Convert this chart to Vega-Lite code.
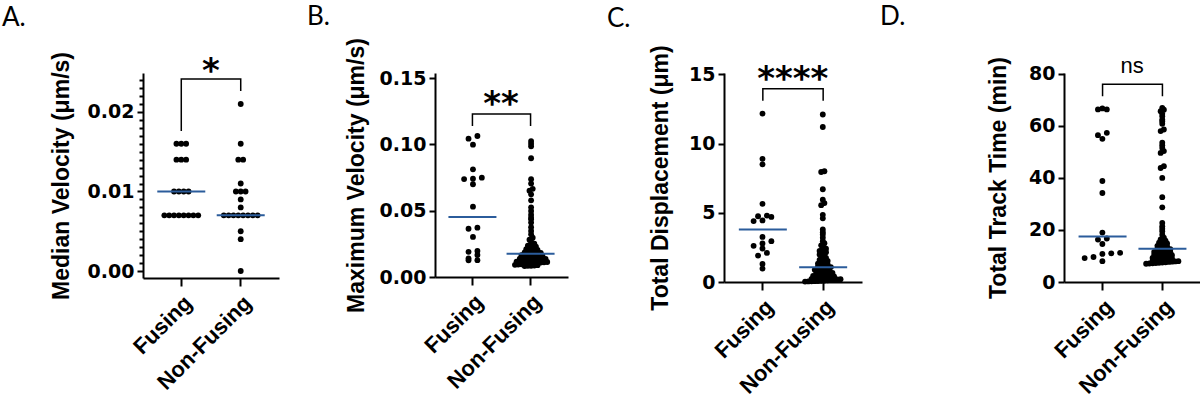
{
  "$schema": "https://vega.github.io/schema/vega-lite/v6.json",
  "padding": {"left": 2, "top": 3, "right": 0, "bottom": 0},
  "background": "white",
  "config": {
    "view": {"stroke": null},
    "font": "Liberation Sans",
    "axis": {"domainColor": "black", "domainWidth": 2, "tickColor": "black", "tickWidth": 2, "labelColor": "black", "titleColor": "black", "grid": false},
    "axisY": {"labelFont": "DejaVu Sans", "labelFontSize": 19, "labelFontWeight": "bold", "labelPadding": 3, "tickSize": 6, "titleFont": "Liberation Sans", "titleFontSize": 23, "titleFontWeight": "bold"},
    "axisX": {"labelFont": "Liberation Sans", "labelFontSize": 22, "labelFontWeight": "bold", "labelAngle": -45, "tickSize": 8, "labelPadding": 6},
    "title": {"font": "Lato", "fontSize": 26, "fontWeight": "normal", "color": "black", "anchor": "start", "frame": "group", "offset": 0}
  },
  "datasets": {
    "dots": [
      {"p":"A","g":"Fusing","v":0.016},{"p":"A","g":"Fusing","v":0.016},{"p":"A","g":"Fusing","v":0.016},
      {"p":"A","g":"Fusing","v":0.014},{"p":"A","g":"Fusing","v":0.014},{"p":"A","g":"Fusing","v":0.014},
      {"p":"A","g":"Fusing","v":0.010},{"p":"A","g":"Fusing","v":0.010},{"p":"A","g":"Fusing","v":0.010},{"p":"A","g":"Fusing","v":0.010},
      {"p":"A","g":"Fusing","v":0.007},{"p":"A","g":"Fusing","v":0.007},{"p":"A","g":"Fusing","v":0.007},{"p":"A","g":"Fusing","v":0.007},
      {"p":"A","g":"Fusing","v":0.007},{"p":"A","g":"Fusing","v":0.007},{"p":"A","g":"Fusing","v":0.007},{"p":"A","g":"Fusing","v":0.007},
      {"p":"A","g":"Non-Fusing","v":0.021},{"p":"A","g":"Non-Fusing","v":0.016},{"p":"A","g":"Non-Fusing","v":0.014},{"p":"A","g":"Non-Fusing","v":0.014},
      {"p":"A","g":"Non-Fusing","v":0.011},{"p":"A","g":"Non-Fusing","v":0.010},{"p":"A","g":"Non-Fusing","v":0.010},{"p":"A","g":"Non-Fusing","v":0.010},
      {"p":"A","g":"Non-Fusing","v":0.009},{"p":"A","g":"Non-Fusing","v":0.008},
      {"p":"A","g":"Non-Fusing","v":0.007},{"p":"A","g":"Non-Fusing","v":0.007},{"p":"A","g":"Non-Fusing","v":0.007},{"p":"A","g":"Non-Fusing","v":0.007},
      {"p":"A","g":"Non-Fusing","v":0.007},{"p":"A","g":"Non-Fusing","v":0.007},{"p":"A","g":"Non-Fusing","v":0.007},{"p":"A","g":"Non-Fusing","v":0.007},
      {"p":"A","g":"Non-Fusing","v":0.005},{"p":"A","g":"Non-Fusing","v":0.004},{"p":"A","g":"Non-Fusing","v":0.0},

      {"p":"B","g":"Fusing","v":0.1063},{"p":"B","g":"Fusing","v":0.1043},{"p":"B","g":"Fusing","v":0.0998},{"p":"B","g":"Fusing","v":0.0812},
      {"p":"B","g":"Fusing","v":0.0749},{"p":"B","g":"Fusing","v":0.0741},{"p":"B","g":"Fusing","v":0.0738},{"p":"B","g":"Fusing","v":0.0699},
      {"p":"B","g":"Fusing","v":0.053},{"p":"B","g":"Fusing","v":0.0372},{"p":"B","g":"Fusing","v":0.0364},{"p":"B","g":"Fusing","v":0.0302},
      {"p":"B","g":"Fusing","v":0.0196},{"p":"B","g":"Fusing","v":0.019},{"p":"B","g":"Fusing","v":0.0166},{"p":"B","g":"Fusing","v":0.0141},
      {"p":"B","g":"Fusing","v":0.0126},{"p":"B","g":"Fusing","v":0.0127},
      {"p":"B","g":"Non-Fusing","v":0.1025},{"p":"B","g":"Non-Fusing","v":0.1005},{"p":"B","g":"Non-Fusing","v":0.0985},{"p":"B","g":"Non-Fusing","v":0.0895},
      {"p":"B","g":"Non-Fusing","v":0.0737},{"p":"B","g":"Non-Fusing","v":0.0704},{"p":"B","g":"Non-Fusing","v":0.0665},{"p":"B","g":"Non-Fusing","v":0.065},
      {"p":"B","g":"Non-Fusing","v":0.0623},{"p":"B","g":"Non-Fusing","v":0.0578},{"p":"B","g":"Non-Fusing","v":0.0525},{"p":"B","g":"Non-Fusing","v":0.0498},
      {"p":"B","g":"Non-Fusing","v":0.047},{"p":"B","g":"Non-Fusing","v":0.0447},{"p":"B","g":"Non-Fusing","v":0.0435},{"p":"B","g":"Non-Fusing","v":0.041},
      {"p":"B","g":"Non-Fusing","v":0.0375},{"p":"B","g":"Non-Fusing","v":0.0347},{"p":"B","g":"Non-Fusing","v":0.0322},{"p":"B","g":"Non-Fusing","v":0.0296},
      {"p":"B","g":"Non-Fusing","v":0.0281},{"p":"B","g":"Non-Fusing","v":0.0266},{"p":"B","g":"Non-Fusing","v":0.0251},
      {"p":"B","g":"Non-Fusing","v":0.0243},{"p":"B","g":"Non-Fusing","v":0.0236},{"p":"B","g":"Non-Fusing","v":0.0229},{"p":"B","g":"Non-Fusing","v":0.0221},{"p":"B","g":"Non-Fusing","v":0.0216},
      {"p":"B","g":"Non-Fusing","v":0.0209},{"p":"B","g":"Non-Fusing","v":0.0204},{"p":"B","g":"Non-Fusing","v":0.0198},{"p":"B","g":"Non-Fusing","v":0.0194},{"p":"B","g":"Non-Fusing","v":0.0189},
      {"p":"B","g":"Non-Fusing","v":0.0186},{"p":"B","g":"Non-Fusing","v":0.0182},{"p":"B","g":"Non-Fusing","v":0.0179},{"p":"B","g":"Non-Fusing","v":0.0177},{"p":"B","g":"Non-Fusing","v":0.0176},
      {"p":"B","g":"Non-Fusing","v":0.0173},{"p":"B","g":"Non-Fusing","v":0.0168},{"p":"B","g":"Non-Fusing","v":0.0165},{"p":"B","g":"Non-Fusing","v":0.016},{"p":"B","g":"Non-Fusing","v":0.0157},
      {"p":"B","g":"Non-Fusing","v":0.0152},{"p":"B","g":"Non-Fusing","v":0.0149},{"p":"B","g":"Non-Fusing","v":0.0146},{"p":"B","g":"Non-Fusing","v":0.0143},{"p":"B","g":"Non-Fusing","v":0.0141},
      {"p":"B","g":"Non-Fusing","v":0.0138},{"p":"B","g":"Non-Fusing","v":0.0136},{"p":"B","g":"Non-Fusing","v":0.0134},{"p":"B","g":"Non-Fusing","v":0.0131},{"p":"B","g":"Non-Fusing","v":0.0129},
      {"p":"B","g":"Non-Fusing","v":0.0127},{"p":"B","g":"Non-Fusing","v":0.0125},{"p":"B","g":"Non-Fusing","v":0.0122},{"p":"B","g":"Non-Fusing","v":0.012},{"p":"B","g":"Non-Fusing","v":0.0118},
      {"p":"B","g":"Non-Fusing","v":0.0116},{"p":"B","g":"Non-Fusing","v":0.0113},{"p":"B","g":"Non-Fusing","v":0.0111},{"p":"B","g":"Non-Fusing","v":0.0109},{"p":"B","g":"Non-Fusing","v":0.0107},
      {"p":"B","g":"Non-Fusing","v":0.0105},{"p":"B","g":"Non-Fusing","v":0.0102},{"p":"B","g":"Non-Fusing","v":0.01},{"p":"B","g":"Non-Fusing","v":0.0098},{"p":"B","g":"Non-Fusing","v":0.0096},
      {"p":"B","g":"Non-Fusing","v":0.0094},{"p":"B","g":"Non-Fusing","v":0.0092},{"p":"B","g":"Non-Fusing","v":0.0089},{"p":"B","g":"Non-Fusing","v":0.0087},{"p":"B","g":"Non-Fusing","v":0.0085},
      {"p":"B","g":"Non-Fusing","v":0.0083},{"p":"B","g":"Non-Fusing","v":0.0084},

      {"p":"C","g":"Fusing","v":12.17},{"p":"C","g":"Fusing","v":8.9},{"p":"C","g":"Fusing","v":8.5},{"p":"C","g":"Fusing","v":5.65},
      {"p":"C","g":"Fusing","v":4.75},{"p":"C","g":"Fusing","v":4.4},{"p":"C","g":"Fusing","v":4.45},{"p":"C","g":"Fusing","v":4.8},
      {"p":"C","g":"Fusing","v":4.7},{"p":"C","g":"Fusing","v":3.26},{"p":"C","g":"Fusing","v":2.95},{"p":"C","g":"Fusing","v":2.78},
      {"p":"C","g":"Fusing","v":2.61},{"p":"C","g":"Fusing","v":2.42},{"p":"C","g":"Fusing","v":2.1},{"p":"C","g":"Fusing","v":1.91},
      {"p":"C","g":"Fusing","v":1.3},{"p":"C","g":"Fusing","v":0.97},
      {"p":"C","g":"Non-Fusing","v":12.1},{"p":"C","g":"Non-Fusing","v":11.2},{"p":"C","g":"Non-Fusing","v":8.0},{"p":"C","g":"Non-Fusing","v":7.95},
      {"p":"C","g":"Non-Fusing","v":6.7},{"p":"C","g":"Non-Fusing","v":5.95},{"p":"C","g":"Non-Fusing","v":5.7},{"p":"C","g":"Non-Fusing","v":5.55},
      {"p":"C","g":"Non-Fusing","v":4.85},{"p":"C","g":"Non-Fusing","v":4.6},{"p":"C","g":"Non-Fusing","v":3.8},{"p":"C","g":"Non-Fusing","v":3.6},
      {"p":"C","g":"Non-Fusing","v":3.43},{"p":"C","g":"Non-Fusing","v":3.2},{"p":"C","g":"Non-Fusing","v":2.95},{"p":"C","g":"Non-Fusing","v":2.8},
      {"p":"C","g":"Non-Fusing","v":2.65},{"p":"C","g":"Non-Fusing","v":2.5},
      {"p":"C","g":"Non-Fusing","v":2.41},{"p":"C","g":"Non-Fusing","v":2.33},{"p":"C","g":"Non-Fusing","v":2.24},{"p":"C","g":"Non-Fusing","v":2.15},{"p":"C","g":"Non-Fusing","v":2.06},
      {"p":"C","g":"Non-Fusing","v":1.98},{"p":"C","g":"Non-Fusing","v":1.9},{"p":"C","g":"Non-Fusing","v":1.81},{"p":"C","g":"Non-Fusing","v":1.74},{"p":"C","g":"Non-Fusing","v":1.66},
      {"p":"C","g":"Non-Fusing","v":1.6},{"p":"C","g":"Non-Fusing","v":1.52},{"p":"C","g":"Non-Fusing","v":1.46},{"p":"C","g":"Non-Fusing","v":1.4},{"p":"C","g":"Non-Fusing","v":1.33},
      {"p":"C","g":"Non-Fusing","v":1.27},{"p":"C","g":"Non-Fusing","v":1.21},{"p":"C","g":"Non-Fusing","v":1.16},{"p":"C","g":"Non-Fusing","v":1.11},{"p":"C","g":"Non-Fusing","v":1.08},
      {"p":"C","g":"Non-Fusing","v":1.05},{"p":"C","g":"Non-Fusing","v":1.01},{"p":"C","g":"Non-Fusing","v":0.96},{"p":"C","g":"Non-Fusing","v":0.92},{"p":"C","g":"Non-Fusing","v":0.88},
      {"p":"C","g":"Non-Fusing","v":0.84},{"p":"C","g":"Non-Fusing","v":0.8},{"p":"C","g":"Non-Fusing","v":0.76},{"p":"C","g":"Non-Fusing","v":0.72},{"p":"C","g":"Non-Fusing","v":0.69},
      {"p":"C","g":"Non-Fusing","v":0.65},{"p":"C","g":"Non-Fusing","v":0.61},{"p":"C","g":"Non-Fusing","v":0.58},{"p":"C","g":"Non-Fusing","v":0.54},{"p":"C","g":"Non-Fusing","v":0.51},
      {"p":"C","g":"Non-Fusing","v":0.47},{"p":"C","g":"Non-Fusing","v":0.44},{"p":"C","g":"Non-Fusing","v":0.41},{"p":"C","g":"Non-Fusing","v":0.38},{"p":"C","g":"Non-Fusing","v":0.35},
      {"p":"C","g":"Non-Fusing","v":0.32},{"p":"C","g":"Non-Fusing","v":0.29},{"p":"C","g":"Non-Fusing","v":0.27},{"p":"C","g":"Non-Fusing","v":0.24},{"p":"C","g":"Non-Fusing","v":0.22},
      {"p":"C","g":"Non-Fusing","v":0.2},{"p":"C","g":"Non-Fusing","v":0.18},{"p":"C","g":"Non-Fusing","v":0.16},{"p":"C","g":"Non-Fusing","v":0.14},{"p":"C","g":"Non-Fusing","v":0.12},
      {"p":"C","g":"Non-Fusing","v":0.1},{"p":"C","g":"Non-Fusing","v":0.09},{"p":"C","g":"Non-Fusing","v":0.07},{"p":"C","g":"Non-Fusing","v":0.06},{"p":"C","g":"Non-Fusing","v":0.05},
      {"p":"C","g":"Non-Fusing","v":0.04},{"p":"C","g":"Non-Fusing","v":0.03},

      {"p":"D","g":"Fusing","v":66.7},{"p":"D","g":"Fusing","v":66.3},{"p":"D","g":"Fusing","v":66.3},{"p":"D","g":"Fusing","v":57.3},
      {"p":"D","g":"Fusing","v":56.4},{"p":"D","g":"Fusing","v":55.0},{"p":"D","g":"Fusing","v":38.8},{"p":"D","g":"Fusing","v":34.2},
      {"p":"D","g":"Fusing","v":19.0},{"p":"D","g":"Fusing","v":16.7},{"p":"D","g":"Fusing","v":16.3},{"p":"D","g":"Fusing","v":14.6},
      {"p":"D","g":"Fusing","v":11.2},{"p":"D","g":"Fusing","v":11.0},{"p":"D","g":"Fusing","v":10.8},{"p":"D","g":"Fusing","v":9.6},
      {"p":"D","g":"Fusing","v":9.2},{"p":"D","g":"Fusing","v":8.0},
      {"p":"D","g":"Non-Fusing","v":66.9},{"p":"D","g":"Non-Fusing","v":66.2},{"p":"D","g":"Non-Fusing","v":65.6},{"p":"D","g":"Non-Fusing","v":64.6},
      {"p":"D","g":"Non-Fusing","v":63.7},{"p":"D","g":"Non-Fusing","v":62.4},{"p":"D","g":"Non-Fusing","v":61.8},{"p":"D","g":"Non-Fusing","v":60.8},
      {"p":"D","g":"Non-Fusing","v":58.6},{"p":"D","g":"Non-Fusing","v":58.0},{"p":"D","g":"Non-Fusing","v":53.5},{"p":"D","g":"Non-Fusing","v":52.5},
      {"p":"D","g":"Non-Fusing","v":51.5},{"p":"D","g":"Non-Fusing","v":50.3},{"p":"D","g":"Non-Fusing","v":49.6},{"p":"D","g":"Non-Fusing","v":44.5},
      {"p":"D","g":"Non-Fusing","v":43.8},{"p":"D","g":"Non-Fusing","v":40.0},{"p":"D","g":"Non-Fusing","v":32.6},{"p":"D","g":"Non-Fusing","v":28.7},
      {"p":"D","g":"Non-Fusing","v":22.7},{"p":"D","g":"Non-Fusing","v":21.4},{"p":"D","g":"Non-Fusing","v":20.5},{"p":"D","g":"Non-Fusing","v":19.5},
      {"p":"D","g":"Non-Fusing","v":18.2},{"p":"D","g":"Non-Fusing","v":17.0},
      {"p":"D","g":"Non-Fusing","v":16.4},{"p":"D","g":"Non-Fusing","v":15.9},{"p":"D","g":"Non-Fusing","v":15.5},{"p":"D","g":"Non-Fusing","v":15.1},
      {"p":"D","g":"Non-Fusing","v":14.8},{"p":"D","g":"Non-Fusing","v":14.5},{"p":"D","g":"Non-Fusing","v":14.2},{"p":"D","g":"Non-Fusing","v":13.9},
      {"p":"D","g":"Non-Fusing","v":13.6},{"p":"D","g":"Non-Fusing","v":13.3},{"p":"D","g":"Non-Fusing","v":13.0},{"p":"D","g":"Non-Fusing","v":12.8},
      {"p":"D","g":"Non-Fusing","v":12.6},{"p":"D","g":"Non-Fusing","v":12.4},{"p":"D","g":"Non-Fusing","v":12.2},{"p":"D","g":"Non-Fusing","v":12.0},
      {"p":"D","g":"Non-Fusing","v":11.8},{"p":"D","g":"Non-Fusing","v":11.6},{"p":"D","g":"Non-Fusing","v":11.4},{"p":"D","g":"Non-Fusing","v":11.2},
      {"p":"D","g":"Non-Fusing","v":11.0},{"p":"D","g":"Non-Fusing","v":10.8},{"p":"D","g":"Non-Fusing","v":10.6},{"p":"D","g":"Non-Fusing","v":10.5},
      {"p":"D","g":"Non-Fusing","v":10.3},{"p":"D","g":"Non-Fusing","v":10.1},{"p":"D","g":"Non-Fusing","v":9.9},{"p":"D","g":"Non-Fusing","v":9.8},
      {"p":"D","g":"Non-Fusing","v":9.6},{"p":"D","g":"Non-Fusing","v":9.4},{"p":"D","g":"Non-Fusing","v":9.3},{"p":"D","g":"Non-Fusing","v":9.1},
      {"p":"D","g":"Non-Fusing","v":8.9},{"p":"D","g":"Non-Fusing","v":8.8},{"p":"D","g":"Non-Fusing","v":8.6},{"p":"D","g":"Non-Fusing","v":8.5},
      {"p":"D","g":"Non-Fusing","v":8.3},{"p":"D","g":"Non-Fusing","v":8.2},{"p":"D","g":"Non-Fusing","v":8.0},{"p":"D","g":"Non-Fusing","v":7.9},
      {"p":"D","g":"Non-Fusing","v":7.8},{"p":"D","g":"Non-Fusing","v":7.7},{"p":"D","g":"Non-Fusing","v":7.6},{"p":"D","g":"Non-Fusing","v":7.5},
      {"p":"D","g":"Non-Fusing","v":7.4},{"p":"D","g":"Non-Fusing","v":7.3},{"p":"D","g":"Non-Fusing","v":7.2},{"p":"D","g":"Non-Fusing","v":7.1},
      {"p":"D","g":"Non-Fusing","v":7.0}
    ],
    "med": [
      {"p":"A","g":"Fusing","v":0.010},{"p":"A","g":"Non-Fusing","v":0.007},
      {"p":"B","g":"Fusing","v":0.0452},{"p":"B","g":"Non-Fusing","v":0.0176},
      {"p":"C","g":"Fusing","v":3.8},{"p":"C","g":"Non-Fusing","v":1.07},
      {"p":"D","g":"Fusing","v":17.5},{"p":"D","g":"Non-Fusing","v":12.8}
    ],
    "brk": [
      {"p":"A","g":"Fusing","v":0.0176,"o":0},{"p":"A","g":"Fusing","v":0.02415,"o":1},{"p":"A","g":"Non-Fusing","v":0.02415,"o":2},{"p":"A","g":"Non-Fusing","v":0.02264,"o":3},
      {"p":"B","g":"Fusing","v":0.1139,"o":0},{"p":"B","g":"Fusing","v":0.1229,"o":1},{"p":"B","g":"Non-Fusing","v":0.1229,"o":2},{"p":"B","g":"Non-Fusing","v":0.1139,"o":3},
      {"p":"C","g":"Fusing","v":13.1,"o":0},{"p":"C","g":"Fusing","v":13.96,"o":1},{"p":"C","g":"Non-Fusing","v":13.96,"o":2},{"p":"C","g":"Non-Fusing","v":13.1,"o":3},
      {"p":"D","g":"Fusing","v":71.4,"o":0},{"p":"D","g":"Fusing","v":76.0,"o":1},{"p":"D","g":"Non-Fusing","v":76.0,"o":2},{"p":"D","g":"Non-Fusing","v":71.4,"o":3}
    ],
    "sig": [
      {"p":"A","g":"Fusing","v":0.02415,"t":"*"},
      {"p":"B","g":"Fusing","v":0.1229,"t":"**"},
      {"p":"C","g":"Fusing","v":13.96,"t":"****"},
      {"p":"D","g":"Fusing","v":76.0,"t":"ns"}
    ]
  },
  "spacing": 18,
  "hconcat": [
    {
      "spacing": 156,
      "bounds": "flush",
      "hconcat": [
        {
          "width": 136, "height": 205,
          "title": {"text": "A.", "dx": -141, "dy": -16.5},
          "encoding": {
            "x": {"field": "g", "type": "nominal", "title": null, "scale": {"type": "band", "domain": ["Fusing", "Non-Fusing"], "paddingInner": 0.186, "paddingOuter": 0.237}},
            "y": {"field": "v", "type": "quantitative", "scale": {"domain": [-0.00088, 0.0249], "nice": false, "zero": false},
                  "axis": {"title": "Median Velocity (μm/s)", "titlePadding": 14, "format": ".2f",
                           "values": [0,0.001,0.002,0.003,0.004,0.005,0.006,0.007,0.008,0.009,0.01,0.011,0.012,0.013,0.014,0.015,0.016,0.017,0.018,0.019,0.02,0.021,0.022,0.023,0.024,0.025],
                           "labelExpr": "abs(datum.value*100 - round(datum.value*100)) < 0.000001 ? datum.label : ''",
                           "tickSize": {"condition": {"test": "abs(datum.value*100 - round(datum.value*100)) < 0.000001", "value": 6}, "value": 4}}}
          },
          "layer": [
            {
              "data": {"name": "dots"},
              "transform": [
                {"filter": "datum.p == 'A'"},
                {"calculate": "round(datum.v * 1000)", "as": "bin"},
                {"window": [{"op": "row_number", "as": "rn"}, {"op": "count", "as": "n"}], "groupby": ["g", "bin"], "sort": [{"field": "v", "order": "ascending"}], "frame": [null, null]},
                {"calculate": "(datum.rn - (datum.n + 1) / 2) * 1.2", "as": "off"}
              ],
              "mark": {"type": "point", "filled": true, "size": 34, "color": "black", "opacity": 1},
              "encoding": {"xOffset": {"field": "off", "type": "quantitative", "scale": {"domain": [-6, 6]}}}
            },
            {
              "data": {"name": "med"},
              "transform": [{"filter": "datum.p == 'A'"}],
              "mark": {"type": "tick", "color": "#2b5c9b", "opacity": 1, "size": 48, "thickness": 2}
            },
            {
              "data": {"name": "brk"},
              "transform": [{"filter": "datum.p == 'A'"}],
              "mark": {"type": "line", "color": "black", "strokeWidth": 1.5},
              "encoding": {"order": {"field": "o", "type": "quantitative"}}
            },
            {
              "data": {"name": "sig"},
              "transform": [{"filter": "datum.p == 'A'"}],
              "mark": {"type": "text", "font": "DejaVu Sans", "fontWeight": "bold", "fontSize": 34, "dx": 29.5, "dy": 3, "baseline": "alphabetic", "align": "center", "color": "black"},
              "encoding": {"text": {"field": "t"}}
            }
          ]
        },
        {
          "width": 133, "height": 204,
          "title": {"text": "B.", "dx": -128, "dy": -3.5},
          "encoding": {
            "x": {"field": "g", "type": "nominal", "title": null, "scale": {"type": "band", "domain": ["Fusing", "Non-Fusing"], "paddingInner": 0.186, "paddingOuter": 0.237}},
            "y": {"field": "v", "type": "quantitative", "scale": {"domain": [0, 0.1538], "nice": false, "zero": false},
                  "axis": {"title": "Maximum Velocity (μm/s)", "titlePadding": 11, "format": ".2f", "values": [0, 0.05, 0.1, 0.15]}}
          },
          "layer": [
            {
              "data": {"name": "dots"},
              "transform": [
                {"filter": "datum.p == 'B'"},
                {"calculate": "floor(datum.v / (datum.g == 'Fusing' ? 0.0045 : 0.0023))", "as": "bin"},
                {"window": [{"op": "row_number", "as": "rn"}, {"op": "count", "as": "n"}], "groupby": ["g", "bin"], "sort": [{"field": "v", "order": "ascending"}], "frame": [null, null]},
                {"calculate": "(datum.rn - (datum.n + 1) / 2) * (datum.g == 'Fusing' ? 2.2 : 0.8)", "as": "off"}
              ],
              "mark": {"type": "point", "filled": true, "size": 34, "color": "black", "opacity": 1},
              "encoding": {"xOffset": {"field": "off", "type": "quantitative", "scale": {"domain": [-6, 6]}}}
            },
            {
              "data": {"name": "med"},
              "transform": [{"filter": "datum.p == 'B'"}],
              "mark": {"type": "tick", "color": "#2b5c9b", "opacity": 1, "size": 48, "thickness": 2}
            },
            {
              "data": {"name": "brk"},
              "transform": [{"filter": "datum.p == 'B'"}],
              "mark": {"type": "line", "color": "black", "strokeWidth": 1.5},
              "encoding": {"order": {"field": "o", "type": "quantitative"}}
            },
            {
              "data": {"name": "sig"},
              "transform": [{"filter": "datum.p == 'B'"}],
              "mark": {"type": "text", "font": "DejaVu Sans", "fontWeight": "bold", "fontSize": 34, "dx": 28.5, "dy": 1, "baseline": "alphabetic", "align": "center", "color": "black"},
              "encoding": {"text": {"field": "t"}}
            }
          ]
        },
        {
          "width": 138, "height": 209,
          "title": {"text": "C.", "dx": -117, "dy": -8.5},
          "encoding": {
            "x": {"field": "g", "type": "nominal", "title": null, "scale": {"type": "band", "domain": ["Fusing", "Non-Fusing"], "paddingInner": 0.186, "paddingOuter": 0.237}},
            "y": {"field": "v", "type": "quantitative", "scale": {"domain": [0, 15.1], "nice": false, "zero": false},
                  "axis": {"title": "Total Displacement (μm)", "titlePadding": 16, "format": "d", "values": [0, 5, 10, 15]}}
          },
          "layer": [
            {
              "data": {"name": "dots"},
              "transform": [
                {"filter": "datum.p == 'C'"},
                {"calculate": "floor(datum.v / (datum.g == 'Fusing' ? 0.43 : 0.22))", "as": "bin"},
                {"window": [{"op": "row_number", "as": "rn"}, {"op": "count", "as": "n"}], "groupby": ["g", "bin"], "sort": [{"field": "v", "order": "ascending"}], "frame": [null, null]},
                {"calculate": "(datum.rn - (datum.n + 1) / 2) * (datum.g == 'Fusing' ? 2.2 : 0.8)", "as": "off"}
              ],
              "mark": {"type": "point", "filled": true, "size": 34, "color": "black", "opacity": 1},
              "encoding": {"xOffset": {"field": "off", "type": "quantitative", "scale": {"domain": [-6, 6]}}}
            },
            {
              "data": {"name": "med"},
              "transform": [{"filter": "datum.p == 'C'"}],
              "mark": {"type": "tick", "color": "#2b5c9b", "opacity": 1, "size": 48, "thickness": 2}
            },
            {
              "data": {"name": "brk"},
              "transform": [{"filter": "datum.p == 'C'"}],
              "mark": {"type": "line", "color": "black", "strokeWidth": 1.5},
              "encoding": {"order": {"field": "o", "type": "quantitative"}}
            },
            {
              "data": {"name": "sig"},
              "transform": [{"filter": "datum.p == 'C'"}],
              "mark": {"type": "text", "font": "DejaVu Sans", "fontWeight": "bold", "fontSize": 34, "dx": 30, "dy": 1, "baseline": "alphabetic", "align": "center", "color": "black"},
              "encoding": {"text": {"field": "t"}}
            }
          ]
        }
      ]
    },
    {
      "width": 137, "height": 209,
      "title": {"text": "D.", "dx": -184, "dy": -21.5},
      "encoding": {
        "x": {"field": "g", "type": "nominal", "title": null, "scale": {"type": "band", "domain": ["Fusing", "Non-Fusing"], "paddingInner": 0.186, "paddingOuter": 0.237}},
        "y": {"field": "v", "type": "quantitative", "scale": {"domain": [0, 80.3], "nice": false, "zero": false},
              "axis": {"title": "Total Track Time (min)", "titlePadding": 18, "format": "d", "values": [0, 20, 40, 60, 80]}}
      },
      "layer": [
        {
          "data": {"name": "dots"},
          "transform": [
            {"filter": "datum.p == 'D'"},
            {"calculate": "floor(datum.v / (datum.g == 'Fusing' ? 2.3 : 1.15))", "as": "bin"},
            {"window": [{"op": "row_number", "as": "rn"}, {"op": "count", "as": "n"}], "groupby": ["g", "bin"], "sort": [{"field": "v", "order": "ascending"}], "frame": [null, null]},
            {"calculate": "(datum.rn - (datum.n + 1) / 2) * (datum.g == 'Fusing' ? 2.2 : 0.8)", "as": "off"}
          ],
          "mark": {"type": "point", "filled": true, "size": 34, "color": "black", "opacity": 1},
          "encoding": {"xOffset": {"field": "off", "type": "quantitative", "scale": {"domain": [-6, 6]}}}
        },
        {
          "data": {"name": "med"},
          "transform": [{"filter": "datum.p == 'D'"}],
          "mark": {"type": "tick", "color": "#2b5c9b", "opacity": 1, "size": 48, "thickness": 2}
        },
        {
          "data": {"name": "brk"},
          "transform": [{"filter": "datum.p == 'D'"}],
          "mark": {"type": "line", "color": "black", "strokeWidth": 1.5},
          "encoding": {"order": {"field": "o", "type": "quantitative"}}
        },
        {
          "data": {"name": "sig"},
          "transform": [{"filter": "datum.p == 'D'"}],
          "mark": {"type": "text", "font": "Liberation Sans", "fontWeight": "normal", "fontSize": 22, "dx": 29.5, "dy": -11, "baseline": "alphabetic", "align": "center", "color": "black"},
          "encoding": {"text": {"field": "t"}}
        }
      ]
    }
  ]
}
